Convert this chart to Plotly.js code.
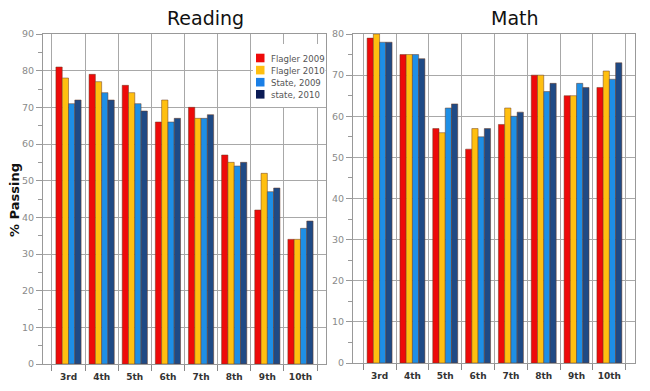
<!DOCTYPE html>
<html><head><meta charset="utf-8">
<script src="https://cdn.plot.ly/plotly-3.0.1.min.js"></script>
<style>html,body{margin:0;padding:0;background:#fff}#c{width:650px;height:391px}</style>
</head><body><div id="c"></div>
<script>
const grades = ['3rd','4th','5th','6th','7th','8th','9th','10th'];
const seriesNames = ['Flagler 2009','Flagler 2010','State, 2009','state, 2010'];
const colors = ['#ee0a0a','#ffbf10','#1e8fe6','#1f4a85'];
const legendColors = ['#ee0a0a','#ffbf10','#1a7fe6','#0a1a55'];
const readingFlagler2009 = [81,79,76,66,70,57,42,34];
const readingFlagler2010 = [78,77,74,72,67,55,52,34];
const readingState2009   = [71,74,71,66,67,54,47,37];
const readingState2010   = [72,72,69,67,68,55,48,39];
const mathFlagler2009 = [79,75,57,52,58,70,65,67];
const mathFlagler2010 = [80,75,56,57,62,70,65,71];
const mathState2009   = [78,75,62,55,60,66,68,69];
const mathState2010   = [78,74,63,57,61,68,67,73];

const reading = [readingFlagler2009, readingFlagler2010, readingState2009, readingState2010];
const math = [mathFlagler2009, mathFlagler2010, mathState2009, mathState2010];

const traces = [];
reading.forEach((vals,i)=>traces.push({type:'bar',x:grades,y:vals,name:seriesNames[i],
  marker:{color:colors[i],line:{color:'#6a3a20',width:0.5}},xaxis:'x',yaxis:'y',showlegend:false}));
math.forEach((vals,i)=>traces.push({type:'bar',x:grades,y:vals,name:seriesNames[i],
  marker:{color:colors[i],line:{color:'#6a3a20',width:0.5}},xaxis:'x2',yaxis:'y2',showlegend:false}));

const W=650,H=391;
const fontFam = 'DejaVu Sans, Verdana, sans-serif';
const xCommon = {type:'category',tickson:'boundaries',showgrid:true,gridcolor:'#a8a8a8',gridwidth:1,
  ticks:'outside',ticklen:6,tickcolor:'#888',showline:true,linecolor:'#999',mirror:true,ticklabelstandoff:4,
  tickfont:{family:fontFam,size:9,color:'#333',weight:'bold'},fixedrange:true,zeroline:false};
const yCommon = {showgrid:true,gridcolor:'#a8a8a8',gridwidth:1,ticks:'outside',ticklen:6,tickcolor:'#999',
  showline:true,linecolor:'#999',mirror:true,dtick:10,zeroline:false,
  minor:{dtick:5,ticks:'outside',ticklen:4,tickcolor:'#999',showgrid:false},
  tickfont:{family:fontFam,size:9.5,color:'#8a8a8a'}};

// manual compact legend (inside Reading panel, top right)
const shapes = [{type:'rect',xref:'paper',yref:'paper',x0:253/W,x1:325.5/W,y0:1-107/H,y1:1-44/H,
  fillcolor:'#fff',line:{width:0},layer:'above'}];
const annotations = [
  {text:'Reading',xref:'paper',yref:'paper',x:205/W,y:1-18/H,showarrow:false,xanchor:'center',yanchor:'middle',
    font:{family:fontFam,size:19,color:'#111'}},
  {text:'Math',xref:'paper',yref:'paper',x:515/W,y:1-18/H,showarrow:false,xanchor:'center',yanchor:'middle',
    font:{family:fontFam,size:19,color:'#111'}},
  {text:'% Passing',xref:'paper',yref:'paper',x:14/W,y:1-200/H,showarrow:false,textangle:-90,xanchor:'center',yanchor:'middle',
    font:{family:fontFam,size:13,color:'#111',weight:'bold'}}
];
seriesNames.forEach((nm,i)=>{
  const cy = 58 + i*12.1;
  shapes.push({type:'rect',xref:'paper',yref:'paper',x0:256/W,x1:264.5/W,y0:1-(cy+4.3)/H,y1:1-(cy-4.3)/H,
    fillcolor:legendColors[i],line:{width:0},layer:'above'});
  annotations.push({text:nm,xref:'paper',yref:'paper',x:269/W,y:1-cy/H,showarrow:false,xanchor:'left',yanchor:'middle',
    font:{family:'DejaVu Sans Condensed, DejaVu Sans, sans-serif',size:9.5,color:'#555'}});
});

const layout = {
  width:W,height:H,margin:{l:0,r:0,t:0,b:0},paper_bgcolor:'#fff',plot_bgcolor:'#fff',
  barmode:'group',bargap:0.24,bargroupgap:0,showlegend:false,
  font:{family:fontFam},
  xaxis:Object.assign({},xCommon,{domain:[43/W,326/W],range:[-0.77,7.77],anchor:'y'}),
  yaxis:Object.assign({},yCommon,{domain:[27/H,357/H],range:[0,90],anchor:'x'}),
  xaxis2:Object.assign({},xCommon,{domain:[353/W,635/W],range:[-0.81,7.78],anchor:'y2'}),
  yaxis2:Object.assign({},yCommon,{domain:[28/H,357/H],range:[0,80],anchor:'x2'}),
  shapes:shapes,
  annotations:annotations
};
Plotly.newPlot('c',traces,layout,{staticPlot:true});
</script></body></html>
